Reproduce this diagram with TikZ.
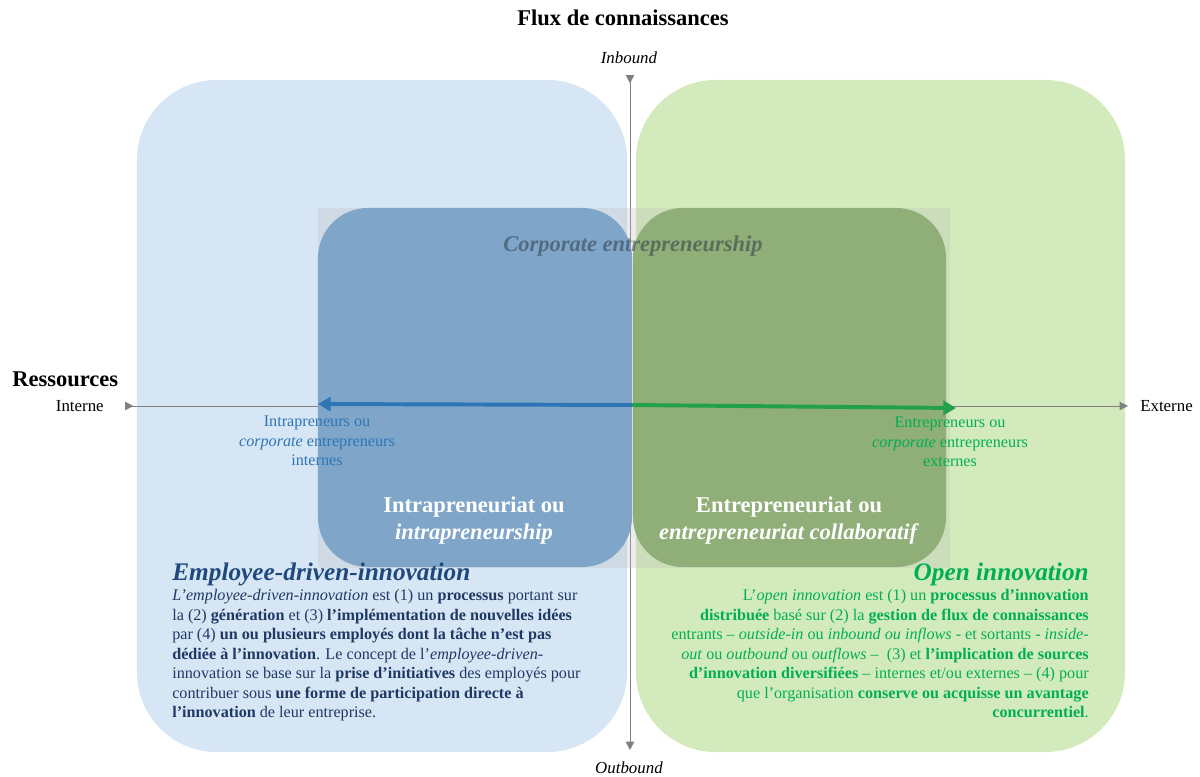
\documentclass[tikz,border=0pt]{standalone}
\usepackage{fontspec}
\setmainfont{Liberation Serif}
\usetikzlibrary{arrows.meta}

\definecolor{edibg}{RGB}{214,230,245}
\definecolor{oibg}{RGB}{211,235,188}
\definecolor{intrabg}{RGB}{127,166,201}
\definecolor{entrebg}{RGB}{143,174,120}
\definecolor{intrablue}{RGB}{46,117,182}
\definecolor{entregreen}{RGB}{35,160,75}
\definecolor{oigreen}{RGB}{0,176,80}
\definecolor{edititle}{RGB}{31,73,125}
\definecolor{editext}{RGB}{32,56,100}
\definecolor{corpgray}{RGB}{45,60,70}

\def\bigradius{2cm}
\def\smallradius{1.25cm}

\begin{document}
\begin{tikzpicture}[x=0.025cm,y=-0.025cm]
        \tikzstyle{big box}=[rectangle,rounded corners=\bigradius,inner sep=0pt,minimum height=16.8cm]
        \tikzstyle{small box}=[rectangle,rounded corners=\smallradius,inner sep=0pt,minimum height=8.975cm]
        \tikzstyle{axis}=[draw=black!50,line width=0.7pt,{Triangle[reversed,length=6pt,width=6pt]}-{Triangle[length=6pt,width=6pt]}]
        \tikzstyle{flow}=[line width=2.8pt,-{Triangle[length=9pt,width=10pt]}]
        \tikzstyle{annot}=[inner sep=0pt,align=center,font=\fontsize{11.5}{13.9}\selectfont]
        \tikzstyle{axis label}=[inner sep=0pt,font=\fontsize{12}{14}\selectfont]
        \tikzstyle{heading}=[inner sep=0pt,font=\bfseries\fontsize{16}{19}\selectfont]
        \tikzstyle{box text}=[inner sep=0pt,align=center,text=white,font=\bfseries\fontsize{16}{19.2}\selectfont]
        \tikzstyle{title}=[inner sep=0pt,anchor=base,font=\bfseries\itshape\fontsize{18}{21}\selectfont]
        \tikzstyle{para}=[inner sep=0pt,font=\fontsize{11.5}{13.87}\selectfont]

        \useasboundingbox (0,0) rectangle (1200,776);

        % Draw the two concepts
        \node[big box, fill=edibg, minimum width=12.25cm] (edi) at (382,416) {};
        \node[big box, fill=oibg, minimum width=12.225cm] (oi) at (880.5,416) {};

        % Draw the axes
        \node[axis label, anchor=east] (interne) at (104,406) {Interne};
        \node[axis label, anchor=west] (externe) at (1140,406) {Externe};
        \node[axis label] (inbound) at (629,58) {\textit{Inbound}};
        \node[axis label] (outbound) at (629,768) {\textit{Outbound}};
        \coordinate (res-in) at (125,406);
        \coordinate (res-ext) at (1128,406);
        \coordinate (flux-in) at (630,75);
        \coordinate (flux-out) at (630,750);
        \draw[axis] (res-in) -- (res-ext);
        \draw[axis] (flux-in) -- (flux-out);

        \node[heading, anchor=west] (ressources) at (12,379) {Ressources};
        \node[heading] (flux) at (623,18) {Flux de connaissances};

        % Corporate entrepreneurship and its two forms
        \node[fill=black!25, fill opacity=0.3, inner sep=0pt, minimum width=15.8cm, minimum height=9cm] (corp) at (634,388) {};
        \node[small box, fill=intrabg, minimum width=7.85cm] (intra) at (475,387.5) {};
        \node[small box, fill=entrebg, minimum width=7.825cm] (entre) at (789.5,387.5) {};
        \node[inner sep=0pt, text=corpgray, text opacity=0.55, font=\bfseries\itshape\fontsize{16}{19}\selectfont] (corp text) at (633,246) {Corporate entrepreneurship};

        % Draw the flows
        \coordinate (origin) at (632,405);
        \coordinate (intra tip) at (318,404);
        \coordinate (entre tip) at (956,408);
        \draw[flow, draw=intrablue, fill=intrablue] (origin) -- (intra tip);
        \draw[flow, draw=entregreen, fill=entregreen] (origin) -- (entre tip);

        \node[annot, text=intrablue] (intra label) at (317,441) {Intrapreneurs ou\\\textit{corporate} entrepreneurs\\internes};
        \node[annot, text=oigreen] (entre label) at (950,442) {Entrepreneurs ou\\\textit{corporate} entrepreneurs\\externes};

        \node[box text] (intra text) at (474,521) {Intrapreneuriat ou\\\textit{intrapreneurship}};
        \node[box text] (entre text) at (789,521) {Entrepreneuriat ou\\\textit{entrepreneuriat collaboratif}};

        % Annotate the concepts
        \node[title, anchor=base west, text=edititle] (edi title) at (172,580) {Employee-driven-innovation};
        \node[para, anchor=north west, align=left, text=editext] (edi text) at (172,589) {%
          \textit{L’employee-driven-innovation} est (1) un \textbf{processus} portant sur\\
          la (2) \textbf{génération} et (3) \textbf{l’implémentation de nouvelles idées}\\
          par (4) \textbf{un ou plusieurs employés dont la tâche n’est pas}\\
          \textbf{dédiée à l’innovation}. Le concept de l’\textit{employee-driven-}\\
          innovation se base sur la \textbf{prise d’initiatives} des employés pour\\
          contribuer sous \textbf{une forme de participation directe à}\\
          \textbf{l’innovation} de leur entreprise.};

        \node[title, anchor=base east, text=oigreen] (oi title) at (1089,580) {Open innovation};
        \node[para, anchor=north east, align=right, text=oigreen] (oi text) at (1089,589) {%
          L’\textit{open innovation} est (1) un \textbf{processus d’innovation}\\
          \textbf{distribuée} basé sur (2) la \textbf{gestion de flux de connaissances}\\
          entrants – \textit{outside-in} ou \textit{inbound ou inflows} - et sortants - \textit{inside-}\\
          \textit{out} ou \textit{outbound} ou \textit{outflows} –~ (3) et \textbf{l’implication de sources}\\
          \textbf{d’innovation diversifiées} – internes et/ou externes – (4) pour\\
          que l’organisation \textbf{conserve ou acquisse un avantage}\\
          \textbf{concurrentiel}.};
\end{tikzpicture}
\end{document}
